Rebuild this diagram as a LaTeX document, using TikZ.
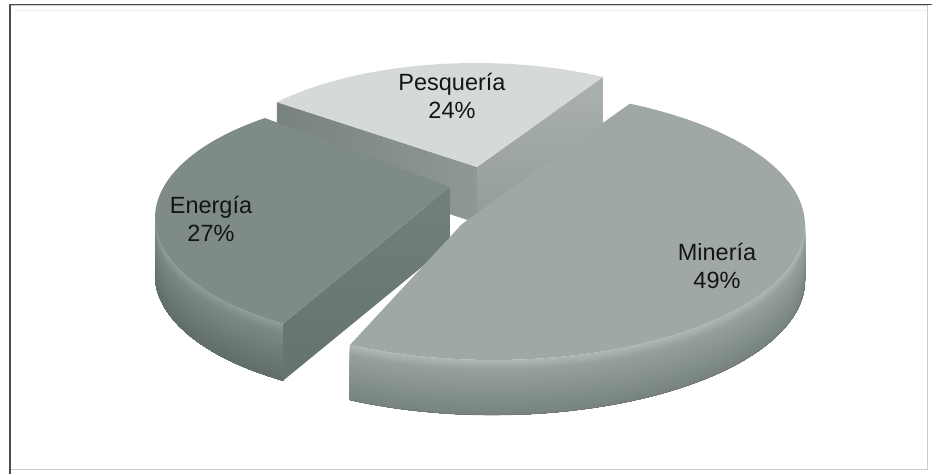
\documentclass[tikz,border=0pt]{standalone}
\usepackage{fontspec}
\setmainfont{Liberation Sans}
\definecolor{ptop}{HTML}{D5DAD8}
\definecolor{pleftA}{HTML}{78837E}
\definecolor{pleftB}{HTML}{8E9894}
\definecolor{prightA}{HTML}{AAB1AE}
\definecolor{prightB}{HTML}{949C98}
\definecolor{etop}{HTML}{7E8B86}
\definecolor{efaceA}{HTML}{72807B}
\definecolor{efaceB}{HTML}{65736E}
\definecolor{mtop}{HTML}{9FA8A4}
\definecolor{mS0}{HTML}{AEB7B3}
\definecolor{mS1}{HTML}{95A09B}
\definecolor{mS2}{HTML}{77837E}
\definecolor{eS0}{HTML}{909C97}
\definecolor{eS1}{HTML}{7B8883}
\definecolor{eS2}{HTML}{616D68}
\tikzset{lbl/.style={font=\fontsize{23.5}{27.6}\selectfont, align=center, inner sep=0pt, text=black!92},
  every plot/.style={samples=60}}
\begin{document}
\begin{tikzpicture}[x=1pt,y=-1pt]
\useasboundingbox (0,0) rectangle (932,474);
\fill[white] (0,0) rectangle (932,474);
% frame
\draw[gray!40, line width=1pt] (10,5) rectangle (927,469);
\draw[gray!15, line width=1pt] (14,10) -- (926,10);
\draw[black!70, line width=1.6pt] (10,474) -- (10,4.5) -- (932,4.5);

% ---------- Pesqueria (back) ----------
\shade[left color=pleftA, right color=pleftB] (477,167) -- (276.9,102.1) -- (276.9,158.1) -- (477,223) -- cycle;
\shade[top color=prightA, bottom color=prightB] (477,167) -- (602.9,77) -- (602.9,133) -- (477,223) -- cycle;
\fill[ptop] (477,167) -- plot[domain=-48.7:28.6] ({476+265*sin(\x)},{178-115*cos(\x)}) -- cycle;

% ---------- Energia ----------
\foreach \k in {0,1,...,56}{
  \pgfmathsetmacro{\p}{\k<10 ? 100*\k/10 : 100*(\k-10)/47}
  \ifdim \k pt<10pt \colorlet{stripc}{eS1!\p!eS0}\else\colorlet{stripc}{eS2!\p!eS1}\fi
  \fill[stripc] plot[domain=212.3:270] ({430+275*sin(\x)},{218+\k-125*cos(\x)})
     -- plot[domain=270:212.3] ({430+275*sin(\x)},{275-125*cos(\x)}) -- cycle;
}
\shade[top color=efaceA, bottom color=efaceB] (450,187) -- (283.0,323.7) -- (283.0,380.7) -- (450,244) -- cycle;
\fill[etop] (450,187) -- plot[domain=212.3:323.1] ({430+275*sin(\x)},{218-125*cos(\x)}) -- cycle;

% ---------- Mineria (front right) ----------
\foreach \k in {0,1,...,54}{
  \pgfmathsetmacro{\p}{\k<10 ? 100*\k/10 : 100*(\k-10)/45}
  \ifdim \k pt<10pt \colorlet{stripc}{mS1!\p!mS0}\else\colorlet{stripc}{mS2!\p!mS1}\fi
  \fill[stripc] plot[domain=90:207.3] ({493+312*sin(\x)},{225+\k-135*cos(\x)})
     -- plot[domain=207.3:90] ({493+312*sin(\x)},{280-135*cos(\x)}) -- cycle;
}
\draw[black!55, line width=0.6pt] plot[domain=90:207.3] ({493+312*sin(\x)},{280-135*cos(\x)});
\fill[mtop] (462,224) -- plot[domain=26:207.3] ({493+312*sin(\x)},{225-135*cos(\x)}) -- cycle;

% ---------- labels ----------
\node[lbl] (pes) at (452,96) {Pesquería\\24\%};
\node[lbl] (ene) at (211,219) {Energía\\27\%};
\node[lbl] (min) at (717,266) {Minería\\49\%};
\end{tikzpicture}
\end{document}
